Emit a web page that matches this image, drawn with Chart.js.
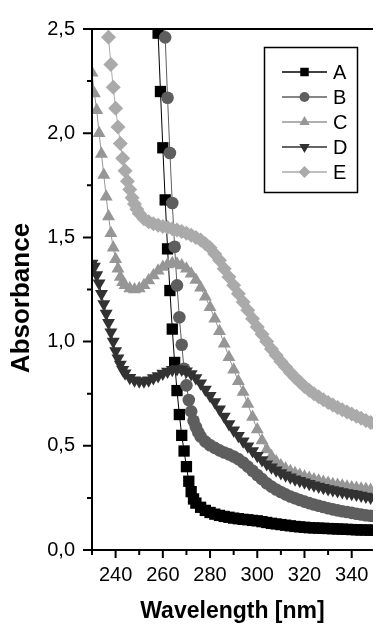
<!DOCTYPE html>
<html>
<head>
<meta charset="utf-8">
<script src="https://cdn.jsdelivr.net/npm/chart.js@4.4.0/dist/chart.umd.min.js"></script>
<style>
  html, body { margin: 0; padding: 0; background: #fff; overflow: hidden; }
  canvas { display: block; }
</style>
</head>
<body>
<canvas id="chart" width="382" height="625"></canvas>
<script>
// --- Data ---
const X_TICKS = [240, 260, 280, 300, 320, 340];
const X_MINOR = [230, 250, 270, 290, 310, 330, 350];
const Y_TICKS = [0, 0.5, 1, 1.5, 2, 2.5];
const Y_MINOR = [0.25, 0.75, 1.25, 1.75, 2.25];

const wlA = [257,258,259,260,261,262,263,264,265,266,267,268,269,270,271,272,273,274,
  276,278,280,282,284,286,288,290,292,294,296,298,300,302,304,306,308,310,312,314,316,318,
  320,322,324,326,328,330,332,334,336,338,340,342,344,346,348,350];
const absA = [2.75,2.48,2.20,1.93,1.68,1.445,1.245,1.06,0.90,0.765,0.65,0.55,0.475,0.40,0.33,0.28,0.245,0.225,
  0.205,0.19,0.18,0.172,0.166,0.161,0.157,0.153,0.15,0.147,0.145,0.142,0.14,0.136,0.132,0.128,0.125,0.122,0.119,0.116,0.113,0.111,
  0.109,0.107,0.106,0.105,0.104,0.103,0.102,0.101,0.1,0.099,0.098,0.097,0.096,0.096,0.095,0.095];

const wlB = [260,261,262,263,264,265,266,267,268,269,270,271,272,273,274,275,276,
  278,280,282,284,286,288,290,292,294,296,298,300,302,304,306,308,310,312,314,316,318,
  320,322,324,326,328,330,332,334,336,338,340,342,344,346,348,350];
const absB = [2.75,2.46,2.17,1.905,1.665,1.455,1.27,1.117,0.985,0.87,0.79,0.72,0.665,0.62,0.59,0.565,0.545,
  0.52,0.503,0.49,0.478,0.468,0.459,0.449,0.436,0.42,0.40,0.38,0.36,0.34,0.32,0.304,0.29,0.278,0.267,0.257,0.248,0.24,
  0.232,0.225,0.218,0.212,0.206,0.2,0.195,0.19,0.186,0.182,0.178,0.174,0.17,0.167,0.164,0.161];

const wlC = [230,231,232,233,234,235,236,237,238,239,240,241,242,243,244,
  246,248,250,252,254,256,258,260,262,264,266,268,270,272,274,276,278,280,282,284,
  286,288,290,292,294,296,298,300,302,304,306,308,310,312,314,316,318,320,322,324,
  326,328,330,332,334,336,338,340,342,344,346,348,350];
const absC = [2.29,2.19,2.11,2.00,1.90,1.80,1.695,1.60,1.52,1.45,1.395,1.35,1.31,1.285,1.27,
  1.255,1.25,1.255,1.27,1.293,1.317,1.34,1.358,1.37,1.376,1.374,1.365,1.35,1.325,1.295,1.258,1.215,1.165,1.11,1.05,
  0.99,0.925,0.865,0.81,0.758,0.70,0.638,0.578,0.525,0.482,0.45,0.425,0.405,0.39,0.378,0.368,0.36,0.352,0.345,0.338,
  0.332,0.326,0.321,0.316,0.312,0.308,0.304,0.30,0.297,0.294,0.291,0.288,0.285];

const wlD = [230,231,232,233,234,235,236,237,238,239,240,241,242,243,244,
  246,248,250,252,254,256,258,260,262,264,266,268,270,272,274,276,278,280,282,284,
  286,288,290,292,294,296,298,300,302,304,306,308,310,312,314,316,318,320,322,324,
  326,328,330,332,334,336,338,340,342,344,346,348,350];
const absD = [1.375,1.36,1.32,1.28,1.23,1.18,1.135,1.09,1.045,1.0,0.955,0.92,0.89,0.865,0.848,
  0.826,0.815,0.81,0.81,0.815,0.825,0.835,0.847,0.857,0.865,0.868,0.866,0.858,0.845,0.825,0.80,0.77,0.74,0.71,0.675,
  0.64,0.605,0.575,0.548,0.522,0.498,0.475,0.452,0.432,0.413,0.397,0.383,0.37,0.359,0.349,0.34,0.332,0.325,0.318,0.311,
  0.305,0.299,0.293,0.288,0.283,0.278,0.274,0.27,0.266,0.262,0.257,0.252,0.248];

const wlE = [236,237,238,239,240,241,242,243,244,245,246,247,248,249,250,
  252,254,256,258,260,262,264,266,268,270,272,274,276,278,280,282,284,286,288,290,
  292,294,296,298,300,302,304,306,308,310,312,314,316,318,320,322,324,326,328,330,
  332,334,336,338,340,342,344,346,348,350];
const absE = [2.62,2.46,2.33,2.22,2.12,2.03,1.95,1.88,1.82,1.77,1.73,1.69,1.66,1.635,1.615,
  1.59,1.575,1.565,1.558,1.552,1.547,1.542,1.535,1.528,1.52,1.51,1.50,1.488,1.47,1.45,1.42,1.39,1.35,1.31,1.27,
  1.23,1.19,1.15,1.11,1.07,1.035,1.0,0.965,0.935,0.905,0.878,0.852,0.828,0.806,0.785,0.767,0.75,0.735,0.721,0.708,
  0.696,0.684,0.673,0.662,0.652,0.642,0.632,0.622,0.612,0.603];

const FONT = "'Liberation Sans', Arial, sans-serif";

// --- Helpers ---
function pairs(xs, ys) {
  return xs.map((x, i) => ({ x, y: ys[i] }));
}

function series(label, xs, ys, color, style, radius, rotation, order) {
  return {
    label,
    data: pairs(xs, ys),
    borderColor: color,
    backgroundColor: color,
    borderWidth: 1,
    tension: 0,
    pointStyle: style,
    pointRadius: radius,
    pointRotation: rotation,
    pointBorderWidth: 0,
    pointBackgroundColor: color,
    order,
  };
}

const fmt = (v) => v.toFixed(1).replace(".", ",");

// frame, tick marks, y title and the boxed legend are drawn by hand
const framePlugin = {
  id: "frame",
  afterDatasetsDraw(chart) {
    const { ctx, chartArea: a, scales } = chart;
    const x = scales.x, y = scales.y;
    ctx.save();
    ctx.strokeStyle = "#000";
    ctx.lineWidth = 2;
    ctx.beginPath();
    ctx.moveTo(a.left - 1, a.top); ctx.lineTo(a.right, a.top);
    ctx.moveTo(a.left, a.top); ctx.lineTo(a.left, a.bottom + 1);
    ctx.moveTo(a.left - 1, a.bottom); ctx.lineTo(a.right, a.bottom);
    Y_TICKS.forEach((v) => {
      const p = y.getPixelForValue(v);
      ctx.moveTo(a.left - 9, p); ctx.lineTo(a.left, p);
    });
    Y_MINOR.forEach((v) => {
      const p = y.getPixelForValue(v);
      ctx.moveTo(a.left - 5, p); ctx.lineTo(a.left, p);
    });
    X_TICKS.forEach((v) => {
      const p = x.getPixelForValue(v);
      ctx.moveTo(p, a.bottom); ctx.lineTo(p, a.bottom + 8);
    });
    X_MINOR.forEach((v) => {
      const p = x.getPixelForValue(v);
      if (p > a.right) return;
      ctx.moveTo(p, a.bottom); ctx.lineTo(p, a.bottom + 5);
    });
    ctx.stroke();

    // y title sits a bit below the axis middle in the original
    ctx.save();
    ctx.translate(22, 298);
    ctx.rotate(-Math.PI / 2);
    ctx.font = "bold 26px " + FONT;
    ctx.textAlign = "center";
    ctx.textBaseline = "middle";
    ctx.fillStyle = "#000";
    ctx.fillText("Absorbance", 0, 0);
    ctx.restore();

    // legend box
    ctx.lineWidth = 1.5;
    ctx.strokeRect(264.5, 47.5, 93, 145);
    ctx.font = "20px " + FONT;
    ctx.textBaseline = "middle";
    ctx.textAlign = "left";
    chart.data.datasets.forEach((ds, i) => {
      const yy = 72 + i * 25;
      ctx.strokeStyle = ds.borderColor;
      ctx.lineWidth = 1.5;
      ctx.beginPath();
      ctx.moveTo(282, yy); ctx.lineTo(327, yy);
      ctx.stroke();
      ctx.fillStyle = ds.backgroundColor;
      Chart.helpers.drawPoint(ctx, {
        pointStyle: ds.pointStyle,
        radius: ds.legendRadius,
        rotation: ds.pointRotation,
        borderWidth: 0,
      }, 304.5, yy);
      ctx.fillStyle = "#000";
      ctx.fillText(ds.label, 333, yy + 1);
    });
    ctx.restore();
  },
};

const dsA = series("A", wlA, absA, "#000000", "rect", 8, 0, 5);
const dsB = series("B", wlB, absB, "#5e5e5e", "circle", 6.3, 0, 4);
const dsC = series("C", wlC, absC, "#969696", "triangle", 7.5, 0, 3);
const dsD = series("D", wlD, absD, "#323232", "triangle", 7.5, 180, 2);
const dsE = series("E", wlE, absE, "#aaaaaa", "rectRot", 7.5, 0, 1);
dsA.legendRadius = 6; dsB.legendRadius = 5; dsC.legendRadius = 6;
dsD.legendRadius = 6; dsE.legendRadius = 6;

new Chart(document.getElementById("chart"), {
  type: "line",
  data: { datasets: [dsA, dsB, dsC, dsD, dsE] },
  options: {
    responsive: false,
    animation: false,
    events: [],
    layout: { padding: { top: 24, right: 0, left: 0, bottom: 0 } },
    plugins: { legend: { display: false }, tooltip: { enabled: false } },
    scales: {
      x: {
        type: "linear",
        min: 230,
        max: 349,
        border: { display: false },
        grid: { display: false, drawTicks: false },
        afterBuildTicks: (s) => { s.ticks = X_TICKS.map((v) => ({ value: v })); },
        afterFit: (s) => { s.height = 75; },
        ticks: { padding: 13, color: "#000", font: { family: FONT, size: 20 }, maxRotation: 0, callback: (v) => String(v) },
        title: {
          display: true,
          text: "Wavelength [nm]",
          color: "#000",
          font: { family: FONT, size: 23, weight: "bold" },
          padding: { top: 0, bottom: 0 },
        },
      },
      y: {
        type: "linear",
        min: 0,
        max: 2.5,
        border: { display: false },
        grid: { display: false, drawTicks: false },
        afterBuildTicks: (s) => { s.ticks = Y_TICKS.map((v) => ({ value: v })); },
        afterFit: (s) => { s.width = 92; },
        ticks: { padding: 17, color: "#000", font: { family: FONT, size: 20 }, callback: (v) => fmt(v) },
      },
    },
  },
  plugins: [framePlugin],
});
</script>
</body>
</html>
